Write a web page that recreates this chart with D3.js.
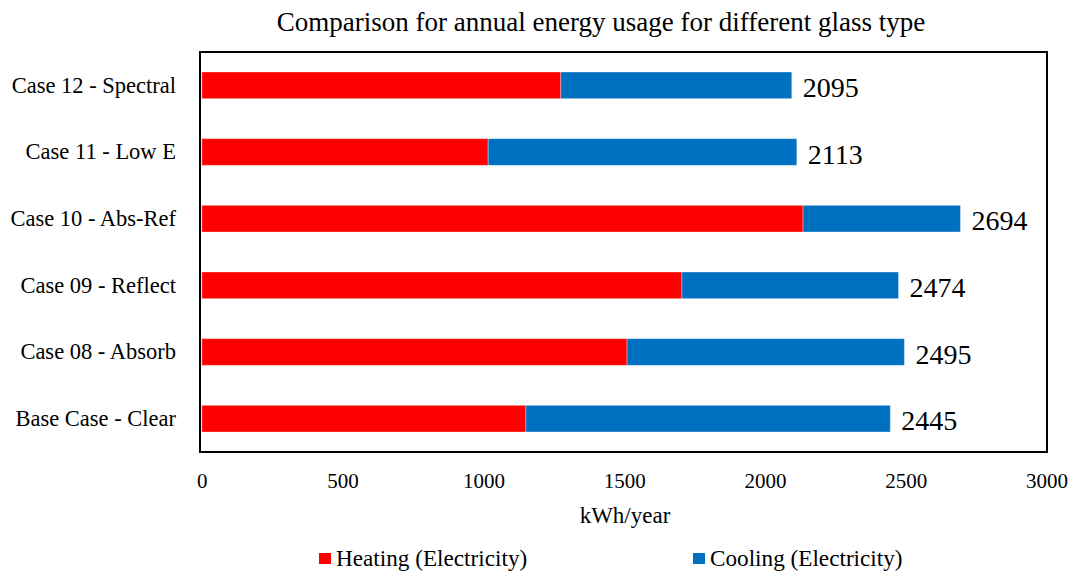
<!DOCTYPE html>
<html>
<head>
<meta charset="utf-8">
<script src="https://cdn.jsdelivr.net/npm/d3@7"></script>
<style>
  html, body { margin: 0; padding: 0; background: #fff; }
  svg { display: block; font-family: "Liberation Serif", "Times New Roman", serif; }
</style>
</head>
<body>
<svg id="chart" width="1079" height="573"></svg>
<script>
// Annual energy use per glazing case (kWh/year)
const categories = ["Case 12 - Spectral", "Case 11 - Low E", "Case 10 - Abs-Ref",
                    "Case 09 - Reflect", "Case 08 - Absorb", "Base Case - Clear"];
const totals  = [2095, 2113, 2694, 2474, 2495, 2445];
const heating = [1275, 1017, 2135, 1705, 1510, 1151];
const cooling = totals.map((t, i) => t - heating[i]);
const xTicks = [0, 500, 1000, 1500, 2000, 2500, 3000];
const seriesNames = ["Heating (Electricity)", "Cooling (Electricity)"];
const seriesColors = ["#ff0000", "#0070c0"];

const svg = d3.select("#chart");
const plot = { left: 201, top: 52, right: 1047, bottom: 452 };

const x = d3.scaleLinear().domain([0, 3000]).range([plot.left + 0.8, plot.right - 0.4]);
const y = d3.scaleBand().domain(categories).range([plot.top, plot.bottom]).paddingInner(0.6).paddingOuter(0.3);

const rows = categories.map((c, i) => ({ cat: c, heating: heating[i], cooling: cooling[i], total: totals[i] }));
const stack = d3.stack().keys(["heating", "cooling"])(rows);

// Title
svg.append("text")
  .attr("x", 601).attr("y", 31)
  .attr("text-anchor", "middle")
  .attr("font-size", 27)
  .text("Comparison for annual energy usage for different glass type");

// Stacked bars
svg.append("g").selectAll("g")
  .data(stack)
  .join("g")
  .attr("fill", (d, i) => seriesColors[i])
  .selectAll("rect")
  .data(d => d)
  .join("rect")
  .attr("x", d => x(d[0]))
  .attr("width", d => x(d[1]) - x(d[0]))
  .attr("y", d => y(d.data.cat))
  .attr("height", y.bandwidth())
  .attr("stroke", "#ffffff")
  .attr("stroke-opacity", 0.35)
  .attr("stroke-width", 1);

// Total labels
svg.append("g").selectAll("text")
  .data(rows)
  .join("text")
  .attr("x", d => x(d.total) + 11)
  .attr("y", d => y(d.cat) + y.bandwidth() / 2)
  .attr("dy", "0.42em")
  .attr("font-size", 28)
  .text(d => d.total);

// Plot frame
svg.append("rect")
  .attr("x", plot.left - 1).attr("y", plot.top)
  .attr("width", plot.right - plot.left + 1).attr("height", plot.bottom - plot.top)
  .attr("fill", "none").attr("stroke", "#000").attr("stroke-width", 2);

// Category axis
const yAxis = svg.append("g")
  .attr("transform", `translate(${plot.left},0)`)
  .call(d3.axisLeft(y).tickSize(0).tickPadding(25));
yAxis.select(".domain").remove();
yAxis.selectAll("text")
  .attr("dy", "0.33em")
  .attr("font-size", 22.5)
  .attr("font-family", "Liberation Serif")
  .attr("fill", "#000");

// Value axis
const xAxis = svg.append("g")
  .attr("transform", `translate(0,${plot.bottom})`)
  .call(d3.axisBottom(x).tickValues(xTicks).tickSize(0).tickPadding(21).tickFormat(d3.format("d")));
xAxis.select(".domain").remove();
xAxis.selectAll("text")
  .attr("font-size", 21)
  .attr("font-family", "Liberation Serif")
  .attr("fill", "#000");

svg.append("text")
  .attr("x", 625).attr("y", 523)
  .attr("text-anchor", "middle")
  .attr("font-size", 23)
  .text("kWh/year");

// Legend
const legendX = [319, 693];
const legend = svg.append("g").selectAll("g")
  .data(seriesNames)
  .join("g")
  .attr("transform", (d, i) => `translate(${legendX[i]},553)`);
legend.append("rect")
  .attr("width", 12).attr("height", 11)
  .attr("fill", (d, i) => seriesColors[i]);
legend.append("text")
  .attr("x", 17).attr("y", 13)
  .attr("font-size", 23.2)
  .text(d => d);
</script>
</body>
</html>
